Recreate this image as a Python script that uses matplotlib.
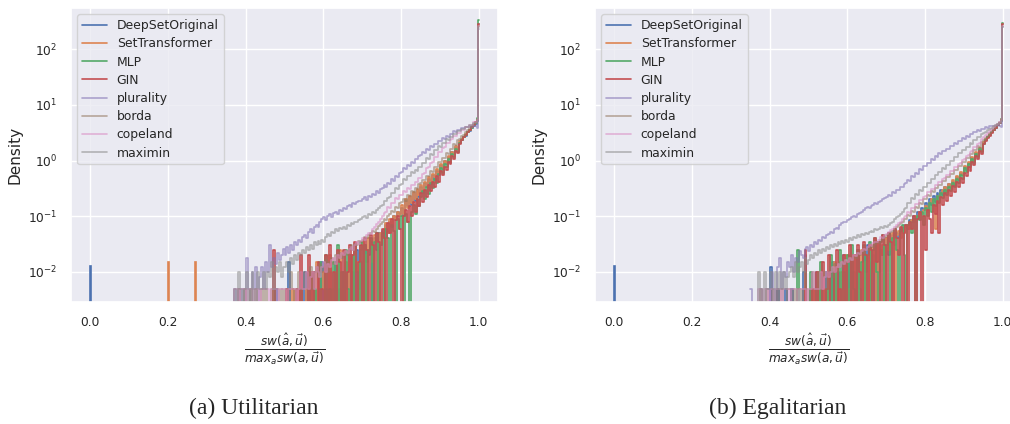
import numpy as np
import matplotlib
matplotlib.use("Agg")
import matplotlib.pyplot as plt
import seaborn as sns

# ---------------- data (densities) ----------------
methods = ["DeepSetOriginal", "SetTransformer", "MLP", "GIN",
           "plurality", "borda", "copeland", "maximin"]

# bins of 0.005 from 0.35 to 0.995, then [0.995, 0.998] and [0.998, 1.0]
bin_edges = list(np.round(np.arange(0.35, 0.9951, 0.005), 3)) + [0.998, 1.0]

# ---- Utilitarian ----  (one row = 0.05 of the x range)
util_deepset = [
    0, 0, 0, 0, 0, 0, 0, 0, 0, 0,
    0, 0, 0, 0, 0, 0, 0, 0, 0, 0,
    0, 0, 0, 0, 0, 0.005, 0, 0, 0, 0,
    0, 0, 0.015, 0, 0, 0, 0, 0, 0.005, 0,
    0.01, 0, 0, 0.005, 0, 0.01, 0, 0, 0.005, 0.015,
    0, 0.005, 0, 0.01, 0, 0, 0.015, 0, 0.005, 0,
    0.01, 0, 0.005, 0.02, 0, 0.01, 0, 0.025, 0.005, 0.015,
    0, 0.03, 0.015, 0.02, 0.035, 0, 0.04, 0.025, 0.05, 0.03,
    0.055, 0.04, 0.07, 0.05, 0.08, 0.065, 0.1, 0.085, 0.12, 0.11,
    0.14, 0.1, 0.19, 0.15, 0.22, 0.16, 0.26, 0.19, 0.3, 0.22,
    0.34, 0.26, 0.4, 0.33, 0.46, 0.38, 0.55, 0.45, 0.66, 0.55,
    0.82, 0.7, 1.0, 0.88, 1.15, 1.05, 1.45, 1.3, 1.75, 1.6,
    2.1, 2.3, 2.6, 2.8, 3.2, 3.4, 3.8, 4.1, 4.5, 5.2, 280]
util_settransformer = [
    0, 0, 0, 0, 0, 0, 0, 0, 0, 0,
    0, 0, 0, 0, 0, 0, 0, 0, 0, 0,
    0, 0, 0, 0, 0, 0, 0, 0, 0, 0,
    0, 0, 0, 0, 0.005, 0, 0, 0, 0.01, 0,
    0, 0.005, 0, 0, 0.01, 0, 0.015, 0, 0, 0.005,
    0.01, 0, 0, 0.02, 0, 0.005, 0.01, 0, 0.025, 0,
    0.005, 0.015, 0, 0.02, 0.01, 0, 0.03, 0.015, 0, 0.025,
    0.035, 0, 0.02, 0.04, 0.03, 0.015, 0.045, 0.035, 0, 0.05,
    0.04, 0.06, 0.075, 0.05, 0.09, 0.07, 0.1, 0.09, 0.12, 0.1,
    0.16, 0.11, 0.2, 0.14, 0.23, 0.17, 0.27, 0.2, 0.31, 0.24,
    0.36, 0.28, 0.42, 0.34, 0.5, 0.4, 0.58, 0.5, 0.7, 0.6,
    0.85, 0.72, 1.0, 0.9, 1.2, 1.05, 1.45, 1.3, 1.8, 1.6,
    2.2, 2.4, 2.7, 3.0, 3.3, 3.6, 4.0, 4.3, 4.7, 5.5, 270]
util_mlp = [
    0, 0, 0, 0, 0, 0, 0, 0, 0, 0,
    0, 0, 0, 0, 0, 0, 0, 0, 0, 0,
    0, 0, 0, 0, 0, 0, 0, 0, 0, 0,
    0, 0, 0, 0, 0, 0, 0, 0, 0.005, 0,
    0, 0, 0.01, 0, 0, 0.005, 0, 0, 0.015, 0,
    0, 0.02, 0, 0.005, 0, 0.015, 0, 0.03, 0, 0.01,
    0, 0.025, 0.005, 0, 0.02, 0, 0.03, 0.01, 0, 0.035,
    0, 0.03, 0, 0.025, 0.04, 0, 0.035, 0.05, 0, 0.03,
    0.05, 0, 0.06, 0.04, 0, 0.07, 0.055, 0, 0.09, 0.06,
    0.1, 0, 0.11, 0.08, 0, 0.12, 0.16, 0.11, 0.2, 0.15,
    0.22, 0.28, 0.2, 0.33, 0.25, 0.4, 0.32, 0.47, 0.4, 0.58,
    0.72, 0.6, 0.85, 0.75, 1.05, 0.92, 1.3, 1.15, 1.6, 1.45,
    2.1, 2.3, 2.6, 2.9, 3.2, 3.6, 3.9, 4.3, 4.8, 5.8, 340]
util_gin = [
    0, 0, 0, 0, 0, 0, 0, 0, 0, 0,
    0, 0, 0, 0, 0, 0, 0, 0, 0, 0,
    0, 0, 0, 0, 0.025, 0, 0, 0, 0, 0,
    0, 0.005, 0, 0, 0, 0, 0.005, 0, 0.02, 0,
    0, 0, 0.02, 0, 0.01, 0, 0, 0.015, 0, 0.005,
    0, 0.02, 0, 0.03, 0, 0.01, 0, 0.025, 0.015, 0,
    0.025, 0, 0.01, 0.03, 0, 0.02, 0.035, 0, 0.015, 0.03,
    0, 0.04, 0.025, 0, 0.045, 0.03, 0, 0.05, 0.035, 0,
    0.06, 0.04, 0, 0.075, 0.05, 0.09, 0, 0.085, 0.1, 0.06,
    0, 0.1, 0.13, 0.08, 0.15, 0.1, 0.18, 0.12, 0.2, 0.15,
    0.26, 0.18, 0.3, 0.22, 0.36, 0.28, 0.42, 0.34, 0.52, 0.42,
    0.65, 0.55, 0.78, 0.68, 0.95, 0.85, 1.2, 1.05, 1.5, 1.35,
    2.0, 2.3, 2.6, 2.9, 3.2, 3.6, 4.0, 4.4, 4.9, 5.4, 290]
util_plurality = [
    0, 0, 0, 0, 0.005, 0, 0.005, 0, 0.005, 0,
    0.018, 0.005, 0, 0.01, 0.005, 0.012, 0, 0.008, 0.012, 0.005,
    0.015, 0.01, 0.03, 0.012, 0.018, 0.014, 0.022, 0.016, 0.02, 0.026,
    0.02, 0.028, 0.022, 0.03, 0.025, 0.034, 0.03, 0.038, 0.035, 0.042,
    0.045, 0.04, 0.052, 0.058, 0.05, 0.065, 0.07, 0.064, 0.08, 0.088,
    0.095, 0.085, 0.1, 0.11, 0.098, 0.115, 0.12, 0.11, 0.13, 0.125,
    0.14, 0.135, 0.15, 0.16, 0.148, 0.17, 0.165, 0.18, 0.19, 0.185,
    0.2, 0.22, 0.195, 0.235, 0.22, 0.25, 0.24, 0.28, 0.26, 0.31,
    0.32, 0.36, 0.33, 0.4, 0.38, 0.46, 0.43, 0.52, 0.5, 0.6,
    0.63, 0.72, 0.7, 0.82, 0.8, 0.95, 0.9, 1.08, 1.05, 1.22,
    1.25, 1.4, 1.35, 1.6, 1.55, 1.8, 1.72, 2.0, 1.95, 2.25,
    2.2, 2.5, 2.45, 2.75, 2.7, 3.05, 2.95, 3.35, 3.25, 3.6,
    3.55, 3.85, 3.8, 4.05, 3.95, 4.15, 4.05, 4.2, 4.1, 3.8, 230]
util_borda = [
    0, 0, 0, 0, 0, 0, 0.005, 0, 0, 0.005,
    0, 0, 0.005, 0, 0, 0.005, 0, 0, 0.005, 0,
    0.005, 0, 0, 0.005, 0, 0.005, 0.005, 0, 0.005, 0,
    0.005, 0.005, 0, 0.01, 0.005, 0, 0.005, 0.01, 0.005, 0.005,
    0.01, 0.005, 0.008, 0.012, 0.005, 0.01, 0.012, 0.008, 0.014, 0.01,
    0.012, 0.016, 0.01, 0.015, 0.018, 0.014, 0.02, 0.016, 0.022, 0.018,
    0.02, 0.024, 0.02, 0.026, 0.03, 0.025, 0.032, 0.03, 0.036, 0.034,
    0.038, 0.042, 0.04, 0.046, 0.05, 0.055, 0.052, 0.06, 0.066, 0.072,
    0.078, 0.09, 0.085, 0.1, 0.11, 0.125, 0.12, 0.145, 0.14, 0.17,
    0.18, 0.2, 0.19, 0.24, 0.23, 0.28, 0.27, 0.32, 0.31, 0.38,
    0.39, 0.45, 0.44, 0.53, 0.52, 0.64, 0.62, 0.78, 0.76, 0.94,
    0.95, 1.12, 1.1, 1.35, 1.32, 1.6, 1.58, 1.95, 1.9, 2.35,
    2.4, 2.8, 2.9, 3.3, 3.5, 3.9, 4.2, 4.5, 4.9, 5.3, 260]
util_copeland = [
    0, 0, 0, 0, 0.005, 0.005, 0, 0.005, 0.005, 0.005,
    0, 0.005, 0.005, 0.005, 0, 0.005, 0.005, 0, 0.005, 0.005,
    0.005, 0.005, 0, 0.005, 0.005, 0.005, 0, 0.005, 0.005, 0.005,
    0.005, 0, 0.005, 0.005, 0.005, 0.005, 0, 0.005, 0.01, 0.005,
    0.005, 0.01, 0.005, 0.008, 0.01, 0.005, 0.012, 0.01, 0.008, 0.012,
    0.015, 0.01, 0.014, 0.012, 0.016, 0.018, 0.014, 0.02, 0.018, 0.022,
    0.02, 0.024, 0.022, 0.026, 0.028, 0.025, 0.03, 0.034, 0.032, 0.036,
    0.04, 0.038, 0.045, 0.05, 0.048, 0.058, 0.065, 0.072, 0.08, 0.09,
    0.1, 0.115, 0.12, 0.145, 0.14, 0.17, 0.17, 0.21, 0.2, 0.245,
    0.24, 0.28, 0.27, 0.32, 0.31, 0.36, 0.36, 0.42, 0.41, 0.48,
    0.48, 0.58, 0.6, 0.72, 0.75, 0.9, 0.94, 1.14, 1.16, 1.42,
    1.42, 1.7, 1.72, 2.05, 2.05, 2.38, 2.4, 2.78, 2.75, 3.1,
    3.1, 3.5, 3.5, 3.95, 3.95, 4.4, 4.4, 4.85, 4.9, 5.4, 260]
util_maximin = [
    0, 0, 0, 0, 0.005, 0, 0.01, 0.005, 0, 0.005,
    0.01, 0, 0.005, 0.01, 0, 0.005, 0.01, 0.005, 0.005, 0.01,
    0.005, 0.01, 0.008, 0.015, 0.005, 0.012, 0.01, 0.015, 0.008, 0.012,
    0.012, 0.015, 0.01, 0.018, 0.014, 0.02, 0.016, 0.022, 0.02, 0.025,
    0.022, 0.028, 0.025, 0.03, 0.026, 0.034, 0.03, 0.036, 0.032, 0.038,
    0.035, 0.042, 0.048, 0.044, 0.052, 0.05, 0.058, 0.054, 0.062, 0.06,
    0.065, 0.06, 0.07, 0.068, 0.075, 0.072, 0.08, 0.078, 0.085, 0.09,
    0.095, 0.1, 0.092, 0.11, 0.105, 0.12, 0.115, 0.13, 0.14, 0.15,
    0.16, 0.19, 0.19, 0.21, 0.22, 0.26, 0.26, 0.32, 0.31, 0.37,
    0.38, 0.46, 0.45, 0.52, 0.52, 0.61, 0.59, 0.68, 0.66, 0.77,
    0.76, 0.92, 0.9, 1.1, 1.06, 1.3, 1.28, 1.52, 1.52, 1.82,
    1.78, 2.08, 2.05, 2.4, 2.35, 2.7, 2.7, 3.05, 3.0, 3.4,
    3.35, 3.7, 3.7, 4.05, 4.0, 4.4, 4.35, 4.7, 4.8, 5.2, 250]

# ---- Egalitarian ----
egal_deepset = [
    0, 0, 0, 0, 0, 0, 0, 0, 0, 0,
    0.012, 0, 0, 0, 0.005, 0, 0, 0, 0.005, 0,
    0, 0.005, 0, 0, 0, 0, 0, 0.01, 0.02, 0,
    0, 0.005, 0, 0, 0.01, 0, 0.005, 0, 0, 0.01,
    0.005, 0, 0.015, 0, 0, 0.01, 0, 0.005, 0.02, 0,
    0, 0.015, 0, 0.01, 0, 0.025, 0.005, 0, 0.02, 0.01,
    0.03, 0, 0.015, 0.02, 0, 0.035, 0.01, 0.025, 0.02, 0.03,
    0.04, 0.02, 0.035, 0.045, 0.03, 0.05, 0.04, 0.06, 0.05, 0.065,
    0.07, 0.06, 0.085, 0.08, 0.1, 0.09, 0.12, 0.11, 0.14, 0.13,
    0.17, 0.13, 0.2, 0.16, 0.23, 0.18, 0.26, 0.21, 0.29, 0.24,
    0.33, 0.27, 0.38, 0.33, 0.42, 0.37, 0.5, 0.45, 0.6, 0.55,
    0.76, 0.68, 0.9, 0.82, 1.1, 1.0, 1.35, 1.22, 1.65, 1.5,
    2.05, 2.3, 2.6, 2.9, 3.2, 3.5, 3.9, 4.3, 4.7, 5.2, 280]
egal_settransformer = [
    0, 0, 0, 0, 0, 0, 0, 0, 0, 0,
    0, 0, 0, 0, 0, 0, 0, 0, 0, 0,
    0, 0, 0, 0, 0, 0, 0, 0, 0.005, 0,
    0, 0, 0.005, 0, 0, 0.01, 0, 0, 0.005, 0,
    0.01, 0, 0, 0.015, 0, 0.005, 0, 0.01, 0, 0.02,
    0, 0.005, 0.015, 0, 0.02, 0, 0.01, 0.025, 0, 0.015,
    0.02, 0, 0.03, 0.01, 0.025, 0, 0.035, 0.02, 0.03, 0,
    0.04, 0.025, 0.035, 0.05, 0, 0.045, 0.055, 0.04, 0.06, 0.05,
    0.065, 0.07, 0.06, 0.085, 0.08, 0.1, 0.095, 0.12, 0.11, 0.13,
    0.15, 0.12, 0.17, 0.2, 0.15, 0.06, 0.23, 0.18, 0.26, 0.3,
    0.33, 0.27, 0.38, 0.32, 0.45, 0.38, 0.52, 0.46, 0.62, 0.55,
    0.8, 0.7, 0.95, 0.85, 1.15, 1.0, 1.4, 1.25, 1.7, 1.55,
    2.15, 2.4, 2.7, 3.0, 3.3, 3.6, 4.0, 4.4, 4.8, 5.6, 290]
egal_mlp = [
    0, 0, 0, 0, 0, 0, 0, 0, 0, 0,
    0, 0, 0, 0, 0, 0, 0, 0, 0, 0,
    0, 0, 0, 0, 0.025, 0, 0, 0, 0.005, 0,
    0, 0.01, 0, 0, 0.005, 0, 0.015, 0, 0, 0.005,
    0, 0.02, 0, 0.01, 0, 0.005, 0.025, 0, 0.01, 0,
    0.02, 0, 0.03, 0.005, 0, 0.025, 0, 0.015, 0.03, 0,
    0.02, 0.035, 0, 0.025, 0.04, 0.01, 0, 0.035, 0.045, 0,
    0.03, 0.05, 0, 0.04, 0.06, 0.025, 0, 0.055, 0.07, 0.02,
    0, 0.07, 0.08, 0.05, 0.09, 0, 0.1, 0.085, 0.12, 0.07,
    0.14, 0.1, 0.17, 0.12, 0.2, 0.15, 0.23, 0.17, 0.26, 0.21,
    0.3, 0.24, 0.34, 0.28, 0.4, 0.33, 0.47, 0.4, 0.55, 0.47,
    0.72, 0.62, 0.88, 0.76, 1.05, 0.92, 1.3, 1.15, 1.6, 1.42,
    2.0, 2.3, 2.6, 2.9, 3.2, 3.6, 3.9, 4.3, 4.8, 5.6, 300]
egal_gin = [
    0, 0, 0, 0, 0, 0, 0, 0, 0, 0,
    0, 0, 0, 0, 0, 0, 0, 0, 0, 0,
    0, 0, 0, 0, 0, 0, 0, 0, 0.025, 0,
    0, 0, 0.005, 0, 0.01, 0, 0, 0.015, 0, 0.005,
    0.02, 0, 0, 0.01, 0.025, 0, 0.005, 0, 0.02, 0,
    0.015, 0.03, 0, 0.02, 0, 0.03, 0.01, 0, 0.035, 0.02,
    0, 0.03, 0.025, 0, 0.04, 0.015, 0.035, 0, 0.045, 0.03,
    0, 0.05, 0.035, 0, 0.06, 0.04, 0.02, 0.065, 0, 0.05,
    0.07, 0, 0.08, 0.06, 0.1, 0, 0.09, 0.12, 0, 0.1,
    0.025, 0.13, 0.09, 0.05, 0.16, 0.11, 0.19, 0.05, 0.22, 0.16,
    0.26, 0.19, 0.3, 0.23, 0.35, 0.27, 0.42, 0.33, 0.48, 0.4,
    0.6, 0.52, 0.75, 0.64, 0.95, 0.82, 1.2, 1.05, 1.5, 1.32,
    1.95, 2.2, 2.5, 2.8, 3.1, 3.5, 3.9, 4.3, 4.8, 5.4, 280]
egal_plurality = [
    0.005, 0, 0, 0, 0, 0.005, 0, 0, 0.005, 0.005,
    0, 0.01, 0.005, 0, 0.012, 0.018, 0.005, 0.01, 0.008, 0.015,
    0.012, 0.02, 0.01, 0.018, 0.015, 0.024, 0.02, 0.018, 0.026, 0.028,
    0.024, 0.03, 0.028, 0.034, 0.032, 0.038, 0.036, 0.042, 0.04, 0.045,
    0.048, 0.052, 0.05, 0.058, 0.062, 0.06, 0.07, 0.075, 0.08, 0.078,
    0.085, 0.09, 0.095, 0.1, 0.097, 0.11, 0.115, 0.12, 0.13, 0.138,
    0.145, 0.14, 0.155, 0.16, 0.17, 0.168, 0.18, 0.19, 0.2, 0.21,
    0.22, 0.24, 0.23, 0.27, 0.26, 0.3, 0.29, 0.34, 0.33, 0.38,
    0.39, 0.45, 0.43, 0.52, 0.5, 0.6, 0.58, 0.7, 0.68, 0.8,
    0.8, 0.92, 0.9, 1.05, 1.02, 1.2, 1.16, 1.34, 1.3, 1.48,
    1.46, 1.64, 1.62, 1.84, 1.8, 2.04, 2.0, 2.24, 2.2, 2.5,
    2.45, 2.75, 2.7, 3.05, 2.95, 3.3, 3.2, 3.5, 3.45, 3.7,
    3.7, 3.95, 3.9, 4.15, 4.1, 4.25, 4.15, 4.3, 4.2, 4.0, 250]
egal_borda = [
    0, 0, 0, 0, 0, 0.005, 0, 0, 0.005, 0,
    0, 0.005, 0, 0, 0.005, 0, 0.005, 0, 0, 0.005,
    0.005, 0, 0.005, 0, 0.005, 0.005, 0, 0.005, 0.01, 0.005,
    0, 0.005, 0.01, 0.005, 0.005, 0.01, 0.005, 0.008, 0.01, 0.005,
    0.01, 0.012, 0.008, 0.014, 0.01, 0.012, 0.015, 0.012, 0.016, 0.014,
    0.015, 0.018, 0.016, 0.02, 0.018, 0.022, 0.02, 0.024, 0.022, 0.026,
    0.025, 0.028, 0.03, 0.028, 0.032, 0.035, 0.033, 0.038, 0.04, 0.042,
    0.045, 0.048, 0.052, 0.055, 0.06, 0.064, 0.07, 0.075, 0.08, 0.088,
    0.09, 0.105, 0.1, 0.125, 0.12, 0.145, 0.14, 0.17, 0.165, 0.2,
    0.2, 0.24, 0.23, 0.28, 0.27, 0.32, 0.32, 0.37, 0.36, 0.43,
    0.43, 0.5, 0.5, 0.58, 0.58, 0.68, 0.68, 0.8, 0.8, 0.94,
    0.94, 1.1, 1.1, 1.3, 1.3, 1.52, 1.52, 1.8, 1.78, 2.12,
    2.3, 2.55, 2.8, 3.1, 3.4, 3.75, 4.1, 4.5, 4.9, 5.3, 260]
egal_copeland = [
    0, 0, 0, 0, 0.005, 0.005, 0, 0.005, 0.005, 0,
    0.005, 0.005, 0, 0.005, 0.005, 0.005, 0, 0.005, 0.005, 0.005,
    0, 0.005, 0.005, 0.005, 0, 0.005, 0.005, 0.005, 0.005, 0,
    0.005, 0.005, 0.01, 0.005, 0.005, 0.005, 0.01, 0.005, 0.008, 0.01,
    0.008, 0.01, 0.012, 0.01, 0.012, 0.014, 0.012, 0.015, 0.014, 0.016,
    0.015, 0.018, 0.016, 0.02, 0.019, 0.022, 0.021, 0.024, 0.026, 0.025,
    0.028, 0.03, 0.029, 0.033, 0.035, 0.034, 0.038, 0.042, 0.04, 0.045,
    0.048, 0.052, 0.056, 0.06, 0.065, 0.07, 0.075, 0.08, 0.088, 0.095,
    0.1, 0.12, 0.115, 0.14, 0.14, 0.165, 0.165, 0.195, 0.195, 0.225,
    0.23, 0.27, 0.27, 0.31, 0.31, 0.36, 0.36, 0.41, 0.41, 0.47,
    0.48, 0.55, 0.56, 0.64, 0.65, 0.75, 0.76, 0.88, 0.9, 1.04,
    1.05, 1.22, 1.25, 1.44, 1.48, 1.72, 1.75, 2.02, 2.1, 2.42,
    2.6, 2.85, 3.1, 3.4, 3.7, 4.0, 4.3, 4.6, 5.0, 5.4, 260]
egal_maximin = [
    0, 0, 0, 0, 0.01, 0.005, 0, 0.01, 0.005, 0.005,
    0.01, 0.005, 0, 0.01, 0.005, 0.01, 0.005, 0.01, 0.005, 0.008,
    0.01, 0.012, 0.008, 0.015, 0.01, 0.012, 0.015, 0.01, 0.018, 0.014,
    0.016, 0.02, 0.018, 0.022, 0.02, 0.025, 0.022, 0.026, 0.024, 0.028,
    0.026, 0.03, 0.028, 0.032, 0.029, 0.034, 0.031, 0.036, 0.033, 0.038,
    0.035, 0.04, 0.038, 0.042, 0.04, 0.045, 0.043, 0.048, 0.046, 0.05,
    0.048, 0.052, 0.055, 0.053, 0.058, 0.056, 0.06, 0.063, 0.061, 0.066,
    0.064, 0.07, 0.075, 0.08, 0.088, 0.095, 0.1, 0.11, 0.12, 0.135,
    0.14, 0.17, 0.17, 0.21, 0.2, 0.25, 0.24, 0.29, 0.28, 0.34,
    0.34, 0.4, 0.4, 0.47, 0.46, 0.55, 0.54, 0.63, 0.62, 0.72,
    0.71, 0.84, 0.84, 1.0, 0.98, 1.17, 1.15, 1.37, 1.36, 1.57,
    1.55, 1.78, 1.78, 2.04, 2.02, 2.34, 2.32, 2.64, 2.62, 2.95,
    3.1, 3.3, 3.5, 3.7, 3.9, 4.1, 4.3, 4.5, 4.7, 5.1, 250]

util_values = [util_deepset, util_settransformer, util_mlp, util_gin,
               util_plurality, util_borda, util_copeland, util_maximin]
egal_values = [egal_deepset, egal_settransformer, egal_mlp, egal_gin,
               egal_plurality, egal_borda, egal_copeland, egal_maximin]

# isolated single bins far from the bulk (position, density)
util_outliers = {"DeepSetOriginal": [(0.0, 0.0125)],
                 "SetTransformer": [(0.2, 0.015), (0.27, 0.015)]}
egal_outliers = {"DeepSetOriginal": [(0.0, 0.0125)]}
outlier_width = 0.0026

# ---------------- style ----------------
sns.set_theme(style="darkgrid")
plt.rcParams['font.family'] = ['DejaVu Sans']
colors = sns.color_palette("deep", 8)
alphas = [1, 1, 1, 1, 0.6, 0.6, 0.6, 0.6]

fig = plt.figure(figsize=(10.1, 4.24), dpi=100)
ax_u = fig.add_axes([0.0703, 0.288, 0.4228, 0.693])
ax_e = fig.add_axes([0.589, 0.288, 0.4228, 0.693])

xlabel = r'$\frac{sw(\hat{a}, \vec{u})}{max_a sw(a, \vec{u})}$'

for ax, values, outliers in [(ax_u, util_values, util_outliers),
                             (ax_e, egal_values, egal_outliers)]:
    for name, vals, c, a in zip(methods, values, colors, alphas):
        # step line without baseline, like an unfilled step histogram
        ax.plot(bin_edges, vals + vals[-1:], drawstyle='steps-post',
                color=c, alpha=a, lw=1.2, label=name)
        for x0, h in outliers.get(name, []):
            ax.stairs([h], [x0, x0 + outlier_width], color=c, alpha=a, lw=1.2)
    ax.set_yscale('log')
    ax.set_xlim(-0.05, 1.05)
    ax.set_ylim(10 ** -2.54, 10 ** 2.74)
    ax.set_xticks([0.0, 0.2, 0.4, 0.6, 0.8, 1.0])
    ax.tick_params(labelsize=8.8, pad=4)
    ax.set_ylabel('Density', fontsize=11)
    ax.set_xlabel(xlabel, fontsize=12.5, labelpad=2)
    ax.legend(loc='upper left', fontsize=8.9, labelspacing=0.42)

fig.text(254 / 1010, 1 - 408 / 424, '(a) Utilitarian', ha='center', va='center',
         family='Liberation Serif', fontsize=17)
fig.text(778 / 1010, 1 - 408 / 424, '(b) Egalitarian', ha='center', va='center',
         family='Liberation Serif', fontsize=17)

fig.savefig('out.png', dpi=100)
